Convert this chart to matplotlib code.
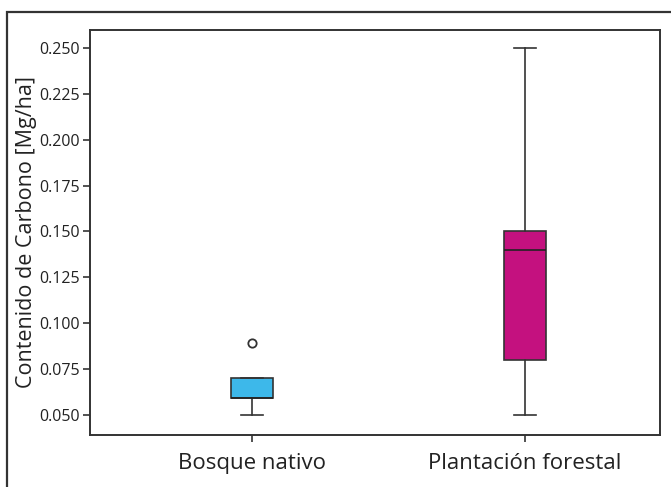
import matplotlib.pyplot as plt
from matplotlib.patches import Rectangle

plt.rcParams['font.family'] = ['Open Sans', 'DejaVu Sans']

groups = ['Bosque nativo', 'Plantación forestal']
colors = ['#3db8ea', '#c4117f']
whislo = [0.050, 0.050]
q1 = [0.059, 0.080]
med = [0.059, 0.140]
q3 = [0.070, 0.150]
whishi = [0.070, 0.250]
fliers = [[0.089], []]
yticks = [0.050, 0.075, 0.100, 0.125, 0.150, 0.175, 0.200, 0.225, 0.250]

W, H = 671, 487
fig = plt.figure(figsize=(W / 100, H / 100), dpi=100)
ax = fig.add_axes([90 / W, 1 - 435 / H, 570 / W, 405 / H])

# outer frame around the figure (cut by the image edge on the right and bottom)
fig.patches.append(Rectangle((7 / W, -0.05), 1.0, 1 - 12 / H + 0.05,
                             transform=fig.transFigure, fill=False,
                             edgecolor='#333333', linewidth=1.6))

stats = []
for i in range(len(groups)):
    stats.append(dict(whislo=whislo[i], q1=q1[i], med=med[i], q3=q3[i],
                      whishi=whishi[i], fliers=fliers[i], label=groups[i]))

bp = ax.bxp(stats, positions=[1, 2], widths=0.155, patch_artist=True,
            showfliers=True, capwidths=0.078,
            boxprops=dict(edgecolor='#333333', linewidth=1.2),
            medianprops=dict(color='#222222', linewidth=1.2),
            whiskerprops=dict(color='#333333', linewidth=1.2),
            capprops=dict(color='#333333', linewidth=1.2),
            flierprops=dict(marker='o', markerfacecolor='white',
                            markeredgecolor='#333333', markersize=6,
                            markeredgewidth=1.3))
for patch, c in zip(bp['boxes'], colors):
    patch.set_facecolor(c)

ax.set_xlim(0.407, 2.494)
ax.set_ylim(0.039, 0.2598)
ax.set_yticks(yticks)
ax.set_yticklabels([f'{v:.3f}' for v in yticks])
ax.set_xticks([1, 2])
ax.set_xticklabels(groups, fontsize=16)
ax.tick_params(axis='y', labelsize=11.5, length=5, width=1.2, pad=2,
               colors='#333333', labelcolor='#222222')
ax.tick_params(axis='x', length=5, width=1.2, colors='#333333',
               labelcolor='#222222', pad=8)
ax.set_ylabel('Contenido de Carbono [Mg/ha]', fontsize=15.5, color='#222222', labelpad=2)
for s in ax.spines.values():
    s.set_linewidth(1.4)
    s.set_color('#333333')

fig.savefig('out.png', dpi=100)
